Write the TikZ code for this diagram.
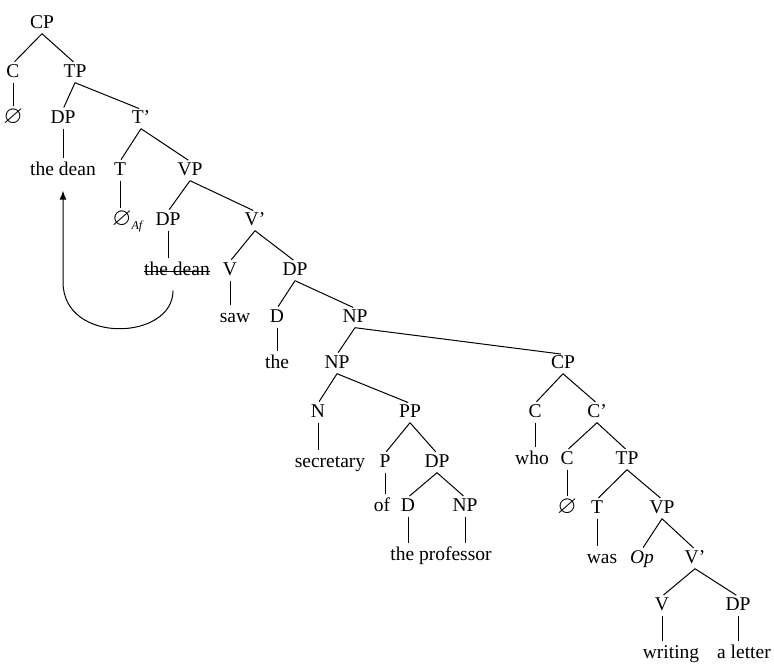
\documentclass[tikz,border=0pt]{standalone}
\usepackage{fontspec}
\setmainfont{Liberation Serif}
\usepackage{amsmath,amssymb}
\usetikzlibrary{arrows.meta}

\newcommand{\vacio}{{\fontsize{25}{26}\selectfont$\varnothing$}}

\begin{document}
\begin{tikzpicture}[x=1pt,y=-1pt,
	every node/.style={font=\fontsize{19.5}{22}\selectfont,inner sep=1pt,text height=13pt,text depth=4pt},
	rama/.style={line width=1pt,shorten >=2pt},
	flecha/.style={line width=1pt,-{Latex[length=9pt,width=7pt]}}]
	\useasboundingbox (0,0) rectangle (774,665);

	% Oracion principal
	\node (cp) at (42,24) {CP};
	\node (c) at (13,73) {C};
	\node (tp) at (75,73) {TP};
	\node (cnull) at (13,119) {\vacio};
	\node (dp) at (63,119) {DP};
	\node (tbar) at (141,119) {T'};
	\node (dean) at (63,171) {the dean};
	\node (t) at (120,171) {T};
	\node (vp) at (190,171) {VP};
	\node[anchor=west] (taf) at (111,221) {\vacio\raisebox{-4pt}{\fontsize{12}{14}\selectfont\textit{Af}}};
	\node (dpb) at (168,221) {DP};
	\node (vbar) at (255,221) {V'};
	\node (deanb) at (177,271) {the dean};
	\node (v) at (230,271) {V};
	\node (dpc) at (295,271) {DP};
	\node (saw) at (235,318) {saw};
	\node (d) at (277,318) {D};
	\node (np) at (355,318) {NP};
	\node (the) at (277,364) {the};
	\node (npb) at (337,364) {NP};
	\node (n) at (318,413) {N};
	\node (pp) at (410,413) {PP};
	\node (secr) at (330,463) {secretary};
	\node (p) at (385,463) {P};
	\node (dpd) at (437,463) {DP};
	\node (of) at (382,507) {of};
	\node (db) at (408,507) {D};
	\node (npc) at (465,507) {NP};
	\node (prof) at (441,556) {the professor};

	% Relativa
	\node (cpb) at (563,364) {CP};
	\node (cc) at (535,413) {C};
	\node (cbar) at (597,413) {C'};
	\node (who) at (532,460) {who};
	\node (cd) at (567,460) {C};
	\node (tpb) at (627,460) {TP};
	\node (cnullb) at (567,509) {\vacio};
	\node (tb) at (597,509) {T};
	\node (vpb) at (662,509) {VP};
	\node (was) at (602,559) {was};
	\node (op) at (642,559) {\textit{Op}};
	\node (vbarb) at (695,559) {V'};
	\node (vc) at (662,606) {V};
	\node (dpe) at (738,606) {DP};
	\node (writing) at (671,654) {writing};
	\node (letter) at (744,654) {a letter};

	% Ramas
	\foreach \a/\b in {cp/c,cp/tp,tp/dp,tp/tbar,tbar/t,tbar/vp,vp/dpb,vp/vbar,vbar/v,vbar/dpc,
		dpc/d,dpc/np,np/npb,np/cpb,npb/n,npb/pp,pp/p,pp/dpd,dpd/db,dpd/npc,
		cpb/cc,cpb/cbar,cbar/cd,cbar/tpb,tpb/tb,tpb/vpb,vpb/op,vpb/vbarb,vbarb/vc,vbarb/dpe}
		\draw[rama] (\a.south) -- (\b.north);
	\foreach \a/\b in {c/cnull,dp/dean,t/taf,dpb/deanb,v/saw,d/the,n/secr,p/of,db/prof,npc/prof,
		cc/who,cd/cnullb,tb/was,vc/writing,dpe/letter}
		\draw[rama,shorten >=3pt] (\a.south) -- (\a.south |- \b.north);

	% Huella tachada
	\draw[line width=.8pt] ([xshift=1pt]deanb.west) -- ([xshift=-1pt]deanb.east);

	% Movimiento
	\coordinate (subida) at (63,282);
	\draw[flecha,shorten >=10pt] ([shift={(-4pt,-10pt)}]deanb.south) .. controls +(0,50) and +(0,63) .. (subida) -- (dean.south);
\end{tikzpicture}
\end{document}
